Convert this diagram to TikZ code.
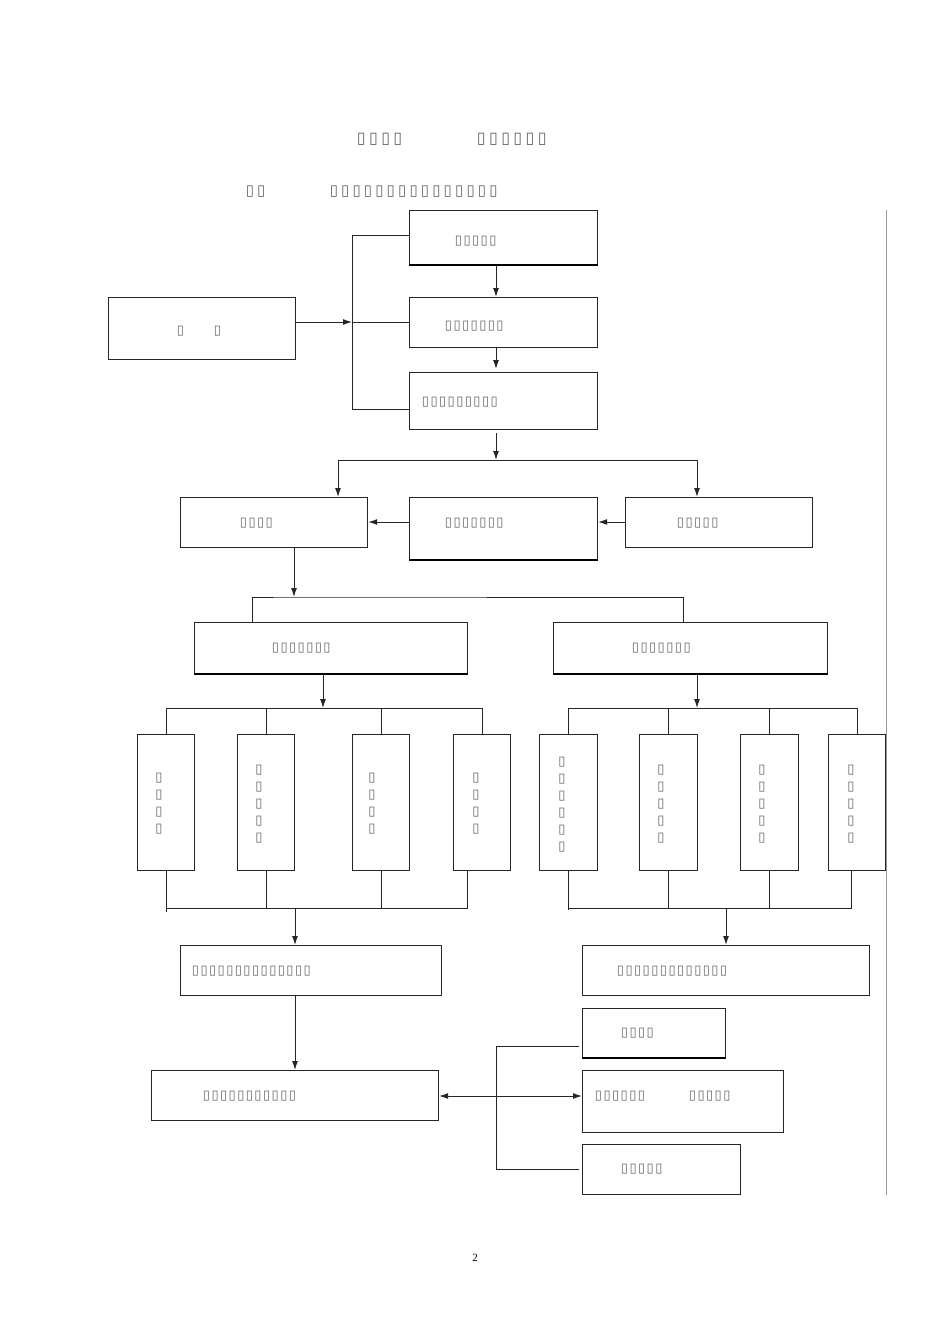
\documentclass[tikz,border=0pt]{standalone}
\usepackage{fontspec}
\setmainfont{Liberation Serif}
\newfontfamily\symf{DejaVu Sans}
\usetikzlibrary{arrows.meta,calc}
\newcommand\T{\makebox[8.6pt]{\symf\fontsize{13}{13}\selectfont ▯}}
\newcommand\TT{\makebox[12.2pt]{\symf\fontsize{16}{16}\selectfont ▯}}
\newcommand\TL{\makebox[11.4pt]{\symf\fontsize{15}{15}\selectfont ▯}}
\tikzset{
  box/.style={draw=black!85, line width=1.2pt, anchor=north west, inner sep=0pt},
  con/.style={draw=black!85, line width=1pt},
  arr/.style={con, -{Latex[length=9pt,width=6pt]}},
  darr/.style={con, {Latex[length=9pt,width=6pt]}-{Latex[length=9pt,width=6pt]}},
  heavy/.style={draw=black, line width=2.2pt},
  txt/.style={anchor=west, inner sep=0pt, text=black!60},
  vtxt/.style={anchor=center, inner sep=0pt, text=black!60, align=center,
    font=\symf\fontsize{13}{17}\selectfont}
}
\newcommand\bx[5]{\node[box, minimum width=#4pt, minimum height=#5pt] (#1) at (#2,#3) {};}
\begin{document}
\begin{tikzpicture}[x=1pt,y=-1pt]
\useasboundingbox (0,0) rectangle (950,1344);
\fill[white] (0,0) rectangle (950,1344);

% titles
\node[txt] (t1a) at (355,139) {\TT\TT\TT\TT};
\node[txt] (t1b) at (475,139) {\TT\TT\TT\TT\TT\TT};
\node[txt] (t2a) at (244,192) {\TL\TL};
\node[txt] (t2b) at (328,192) {\TL\TL\TL\TL\TL\TL\TL\TL\TL\TL\TL\TL\TL\TL\TL};

% boxes
\bx{b1}{409}{210}{188}{54}
\bx{b0}{108}{297}{187}{62}
\bx{b2}{409}{297}{188}{50}
\bx{b3}{409}{372}{188}{57}
\bx{r1}{180}{497}{187}{50}
\bx{r2}{409}{497}{188}{62}
\bx{r3}{625}{497}{187}{50}
\bx{l4}{194}{622}{273}{51}
\bx{r4}{553}{622}{274}{51}
\bx{v1}{137}{734}{57}{136}
\bx{v2}{237}{734}{57}{136}
\bx{v3}{352}{734}{57}{136}
\bx{v4}{453}{734}{57}{136}
\bx{v5}{539}{734}{58}{136}
\bx{v6}{639}{734}{58}{136}
\bx{v7}{740}{734}{58}{136}
\bx{v8}{828}{734}{57}{136}
\bx{l6}{180}{945}{261}{50}
\bx{r6}{582}{945}{287}{50}
\bx{l7}{151}{1070}{287}{50}
\bx{s1}{582}{1008}{143}{49}
\bx{s2}{582}{1070}{201}{62}
\bx{s3}{582}{1144}{158}{50}

% heavier bottom edges
\draw[heavy] (b1.south west) -- (b1.south east);
\draw[heavy] (r2.south west) -- (r2.south east);
\draw[heavy] (l4.south west) -- (l4.south east);
\draw[heavy] (r4.south west) -- (r4.south east);
\draw[heavy] (s1.south west) -- (s1.south east);

% box texts
\node[txt] (x1) at (454,241) {\T\T\T\T\T};
\node[txt] (x0a) at (176,331) {\T};
\node[txt] (x0b) at (213,331) {\T};
\node[txt] (x2) at (444,326) {\T\T\T\T\T\T\T};
\node[txt] (x3) at (421,402) {\T\T\T\T\T\T\T\T\T};
\node[txt] (xr1) at (239,523) {\T\T\T\T};
\node[txt] (xr2) at (444,523) {\T\T\T\T\T\T\T};
\node[txt] (xr3) at (676,523) {\T\T\T\T\T};
\node[txt] (xl4) at (271,648) {\T\T\T\T\T\T\T};
\node[txt] (xr4) at (631,648) {\T\T\T\T\T\T\T};
\node[vtxt] (xv1) at (159,804) {▯\\▯\\▯\\▯};
\node[vtxt] (xv2) at (259,804) {▯\\▯\\▯\\▯\\▯};
\node[vtxt] (xv3) at (372,804) {▯\\▯\\▯\\▯};
\node[vtxt] (xv4) at (476,804) {▯\\▯\\▯\\▯};
\node[vtxt] (xv5) at (562,805) {▯\\▯\\▯\\▯\\▯\\▯};
\node[vtxt] (xv6) at (661,804) {▯\\▯\\▯\\▯\\▯};
\node[vtxt] (xv7) at (762,804) {▯\\▯\\▯\\▯\\▯};
\node[vtxt] (xv8) at (851,804) {▯\\▯\\▯\\▯\\▯};
\node[txt] (xl6) at (191,971) {\T\T\T\T\T\T\T\T\T\T\T\T\T\T};
\node[txt] (xr6) at (616,971) {\T\T\T\T\T\T\T\T\T\T\T\T\T};
\node[txt] (xl7) at (202,1096) {\T\T\T\T\T\T\T\T\T\T\T};
\node[txt] (xs1) at (620,1033) {\T\T\T\T};
\node[txt] (xs2a) at (594,1096) {\T\T\T\T\T\T};
\node[txt] (xs2b) at (688,1096) {\T\T\T\T\T};
\node[txt] (xs3) at (620,1169) {\T\T\T\T\T};

% junction coordinates
\coordinate (ja) at (352,235);
\coordinate (jb) at (352,322);
\coordinate (jc) at (352,409);
\coordinate (jd) at (496,460);
\coordinate (je) at (294,597);
\coordinate (jf) at (323,708);
\coordinate (jg) at (697,708);
\coordinate (jh) at (295,908);
\coordinate (ji) at (726,908);
\coordinate (jk) at (496,1046);
\coordinate (jl) at (496,1169);

% top bracket
\draw[con] (b1.west |- ja) -- (ja) -- (jc) -- (b3.west |- jc);
\draw[con] (jb) -- (b2.west |- jb);
\draw[arr] (b0.east |- jb) -- (jb);
\draw[arr] (b1.south -| jd) -- (b2.north -| jd);
\draw[arr] (b2.south -| jd) -- ([yshift=3pt]b3.north -| jd);
\draw[arr] ([yshift=-3pt]b3.south -| jd) -- (jd);
\draw[arr] (jd) -| (338,0 |- r1.north);
\draw[arr] (jd) -| (697,0 |- r3.north);
\draw[arr] (r2.west |- 0,522) -- (r1.east |- 0,522);
\draw[arr] (r3.west |- 0,522) -- (r2.east |- 0,522);

% second level
\draw[arr] (r1.south -| je) -- (je);
\draw[con] (252,0 |- l4.north) |- (je) -| (683,0 |- r4.north);

% third level left
\draw[arr] (l4.south -| jf) -- (jf);
\draw[con] (v1.north) |- (v4.north |- jf) -- (v4.north);
\draw[con] (v2.north) -- (v2.north |- jf);
\draw[con] (v3.north) -- (v3.north |- jf);
% third level right
\draw[arr] (r4.south -| jg) -- (jg);
\draw[con] (v5.north) |- (v8.north |- jg) -- (v8.north);
\draw[con] (v6.north) -- (v6.north |- jg);
\draw[con] (v7.north) -- (v7.north |- jg);

% collect left
\draw[con] (v1.south) -- ([yshift=-4pt]v1.south |- jh);
\draw[con] (v1.south |- jh) -- (467,0 |- jh) -- (467,0 |- v4.south);
\draw[con] (v2.south) -- (v2.south |- jh);
\draw[con] (v3.south) -- (v3.south |- jh);
\draw[arr] (jh) -- (l6.north -| jh);
% collect right
\draw[con] (v5.south) -- ([yshift=-2pt]v5.south |- ji);
\draw[con] (v5.south |- ji) -- (851,0 |- ji) -- (851,0 |- v8.south);
\draw[con] (v6.south) -- (v6.south |- ji);
\draw[con] (v7.south) -- (v7.south |- ji);
\draw[arr] (ji) -- (r6.north -| ji);

% bottom
\draw[arr] (l6.south -| jh) -- (l7.north -| jh);
\draw[con] ([xshift=-3pt]s1.west |- jk) -- (jk) -- (jl) -- ([xshift=-3pt]s3.west |- jl);
\draw[darr] (l7.east |- 0,1096) -- (s2.west |- 0,1096);

% right margin line
\draw[black!40, line width=1pt] (886,210) -- (886,1195);

% page number
\node[inner sep=0pt] (pg) at (475,1258) {\fontsize{11}{11}\selectfont 2};
\end{tikzpicture}
\end{document}
